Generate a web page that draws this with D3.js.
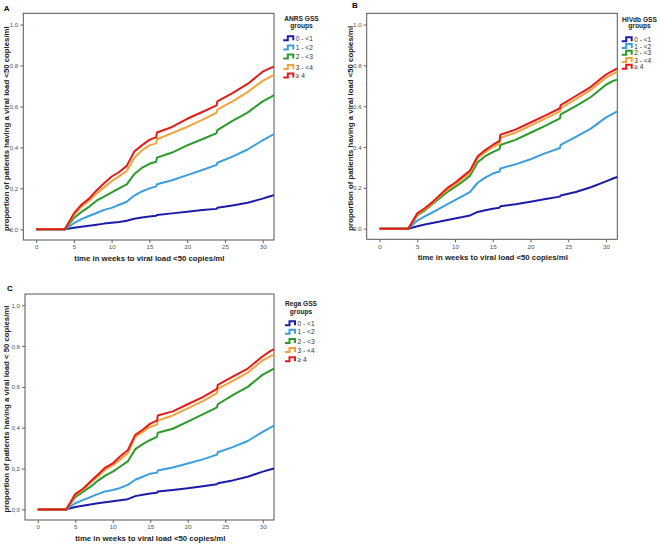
<!DOCTYPE html>
<html><head><meta charset="utf-8">
<script src="https://d3js.org/d3.v7.min.js"></script>
<style>body{margin:0;background:#fff;} text{font-family:"Liberation Sans",Arial,sans-serif;}</style>
</head><body>
<svg id="chart" width="661" height="546"></svg>
<script>
const weeks = [0, 3.8, 5, 6, 7, 8, 9, 10, 11, 12, 13, 14, 15, 15.9, 16, 18, 20, 22, 23.9, 24, 26, 28, 30, 31, 31.5];
const groups = ["0 - <1", "1 - <2", "2 - <3", "3 - <4", "\u2265 4"];
const colors = ["#1c1ca8", "#3a9ee0", "#2a9a2a", "#f6a23a", "#e31b1b"];
const xTicks = [0, 5, 10, 15, 20, 25, 30];
const yTicks = [0, 0.2, 0.4, 0.6, 0.8, 1.0];

const anrs0 = [0,0,0.008,0.013,0.018,0.023,0.028,0.032,0.036,0.042,0.052,0.058,0.063,0.066,0.07,0.078,0.086,0.094,0.10,0.105,0.117,0.13,0.15,0.162,0.167];
const anrs1 = [0,0,0.03,0.05,0.065,0.08,0.095,0.105,0.12,0.135,0.165,0.185,0.20,0.21,0.22,0.24,0.265,0.29,0.315,0.325,0.355,0.39,0.435,0.455,0.465];
const anrs2 = [0,0,0.055,0.085,0.11,0.14,0.16,0.18,0.20,0.22,0.27,0.30,0.32,0.33,0.35,0.375,0.41,0.44,0.47,0.485,0.53,0.57,0.625,0.645,0.655];
const anrs3 = [0,0,0.07,0.11,0.14,0.175,0.205,0.235,0.26,0.285,0.35,0.385,0.41,0.42,0.44,0.47,0.50,0.535,0.57,0.585,0.625,0.67,0.725,0.745,0.755];
const anrs4 = [0,0,0.078,0.12,0.15,0.19,0.225,0.258,0.28,0.31,0.38,0.41,0.437,0.45,0.473,0.50,0.54,0.573,0.605,0.625,0.665,0.71,0.77,0.787,0.795];

const hiv0 = [0,0,0.012,0.02,0.028,0.035,0.043,0.05,0.057,0.065,0.082,0.09,0.098,0.103,0.11,0.12,0.132,0.145,0.157,0.163,0.18,0.203,0.232,0.247,0.253];
const hiv1 = [0,0,0.04,0.06,0.08,0.10,0.12,0.14,0.16,0.18,0.225,0.25,0.27,0.28,0.295,0.315,0.34,0.37,0.395,0.41,0.45,0.49,0.545,0.565,0.575];
const hiv2 = [0,0,0.065,0.09,0.12,0.15,0.18,0.205,0.23,0.26,0.325,0.355,0.375,0.39,0.41,0.435,0.47,0.505,0.54,0.56,0.60,0.645,0.705,0.725,0.73];
const hiv3 = [0,0,0.07,0.095,0.125,0.16,0.19,0.215,0.245,0.275,0.345,0.375,0.40,0.415,0.445,0.47,0.505,0.54,0.575,0.59,0.635,0.68,0.74,0.76,0.77];
const hiv4 = [0,0,0.075,0.10,0.13,0.165,0.20,0.225,0.255,0.285,0.355,0.385,0.41,0.43,0.46,0.485,0.52,0.555,0.59,0.605,0.65,0.695,0.755,0.775,0.785];

const rega0 = [0,0,0.012,0.018,0.024,0.03,0.035,0.04,0.045,0.05,0.065,0.072,0.078,0.082,0.088,0.095,0.103,0.113,0.123,0.128,0.142,0.16,0.185,0.195,0.2];
const rega1 = [0,0,0.03,0.045,0.06,0.075,0.088,0.095,0.105,0.12,0.145,0.16,0.175,0.18,0.19,0.205,0.225,0.245,0.268,0.28,0.305,0.335,0.38,0.40,0.41];
const rega2 = [0,0,0.06,0.085,0.11,0.14,0.165,0.185,0.21,0.235,0.295,0.32,0.34,0.355,0.375,0.395,0.43,0.465,0.50,0.515,0.56,0.60,0.66,0.68,0.69];
const rega3 = [0,0,0.07,0.095,0.13,0.16,0.195,0.215,0.245,0.275,0.355,0.38,0.405,0.415,0.435,0.46,0.495,0.53,0.57,0.59,0.63,0.67,0.73,0.75,0.758];
const rega4 = [0,0,0.075,0.10,0.135,0.17,0.205,0.225,0.26,0.29,0.365,0.39,0.42,0.435,0.46,0.48,0.515,0.55,0.59,0.61,0.65,0.69,0.75,0.775,0.785];

const panels = [
  {letter:"A", series:[anrs0,anrs1,anrs2,anrs3,anrs4], legendTitle:["ANRS GSS","groups"], dec:",",
   ytitle:"proportion of patients having a viral load <50 copies/ml",
   box:{x:23.3,y:13.3,w:250.7,h:226.7}, letterPos:[6.7,8.5], ytx:6.5,
   leg:{cx:301.5,ty:[18.3,25.3],x:283.3,items:[38.3,47.5,56.5,67,75.5],fs:6.6}},
  {letter:"B", series:[hiv0,hiv1,hiv2,hiv3,hiv4], legendTitle:["HIVdb GSS","groups"], dec:".",
   ytitle:"proportion of patients having a viral load <50 copies/ml",
   box:{x:366.7,y:13.3,w:250.6,h:226}, letterPos:[355,5.5], ytx:350,
   leg:{cx:639.5,ty:[19.3,25.5],x:621.7,items:[39.3,46,52.7,60,66.7],fs:6.6}},
  {letter:"C", series:[rega0,rega1,rega2,rega3,rega4], legendTitle:["Rega GSS","groups"], dec:",",
   ytitle:"proportion of patients having a viral load < 50 copies/ml",
   box:{x:25,y:294,w:249,h:226}, letterPos:[10,288.5], ytx:6.7,
   leg:{cx:301,ty:[303.3,311.5],x:285,items:[323.3,331.7,341,350,359.3],fs:6.6}}
];

const svg = d3.select("#chart");

panels.forEach(p => {
  const b = p.box;
  const x = d3.scaleLinear().domain([-1.7, 31.5]).range([b.x, b.x + b.w]);
  const y = d3.scaleLinear().domain([-0.052, 1.055]).range([b.y + b.h, b.y]);
  const g = svg.append("g");
  const fmt = v => d3.format(".1f")(v).replace(".", p.dec);

  g.append("g").attr("transform", `translate(0,${b.y + b.h})`)
    .call(d3.axisBottom(x).tickValues(xTicks).tickSize(3).tickPadding(2).tickFormat(d3.format("d")))
    .call(a => { a.select(".domain").remove(); a.selectAll("line").attr("stroke","#666");
      a.selectAll("text").attr("font-size",6.2).attr("fill","#555"); });
  g.append("g").attr("transform", `translate(${b.x},0)`)
    .call(d3.axisLeft(y).tickValues(yTicks).tickSize(3).tickPadding(2).tickFormat(fmt))
    .call(a => { a.select(".domain").remove(); a.selectAll("line").attr("stroke","#666");
      a.selectAll("text").attr("font-size",6.2).attr("fill","#555"); });

  g.append("rect").attr("x", b.x).attr("y", b.y).attr("width", b.w).attr("height", b.h)
    .attr("fill","none").attr("stroke","#555").attr("stroke-width",1);

  const line = d3.line().x((d,i) => x(weeks[i])).y(d => y(d)).curve(d3.curveLinear);
  p.series.forEach((s, i) => {
    g.append("path").datum(s).attr("d", line).attr("fill","none")
      .attr("stroke", colors[i]).attr("stroke-width", 2).attr("stroke-linejoin","round");
  });

  g.append("text").attr("x", x(15)).attr("y", b.y + b.h + 21).attr("text-anchor","middle")
    .attr("font-size",7.8).attr("font-weight","bold").attr("fill","#222")
    .text("time in weeks to viral load <50 copies/ml");
  g.append("text").attr("transform", `translate(${p.ytx},${b.y + b.h/2 + 2}) rotate(-90)`)
    .attr("text-anchor","middle").attr("dominant-baseline","central")
    .attr("font-size",7.8).attr("font-weight","bold").attr("fill","#222").text(p.ytitle);

  g.append("text").attr("x", p.letterPos[0]).attr("y", p.letterPos[1]).attr("text-anchor","middle")
    .attr("dominant-baseline","central").attr("font-size",8).attr("font-weight","bold").text(p.letter);

  const L = p.leg;
  p.legendTitle.forEach((t, k) => {
    g.append("text").attr("x", L.cx).attr("y", L.ty[k]).attr("text-anchor","middle")
      .attr("dominant-baseline","central")
      .attr("font-size", L.fs).attr("font-weight","bold").attr("fill","#222").text(t);
  });
  groups.forEach((name, i) => {
    const yy = L.items[i];
    g.append("path").attr("d", `M${L.x},${yy+2}H${L.x+4.5}V${yy-2}H${L.x+10}V${yy+2}`)
      .attr("fill","none").attr("stroke", colors[i]).attr("stroke-width",2);
    g.append("text").attr("x", L.x + 12.5).attr("y", yy).attr("dominant-baseline","central")
      .attr("font-size", L.fs).attr("fill","#333").text(name);
  });
});
</script>
</body></html>
